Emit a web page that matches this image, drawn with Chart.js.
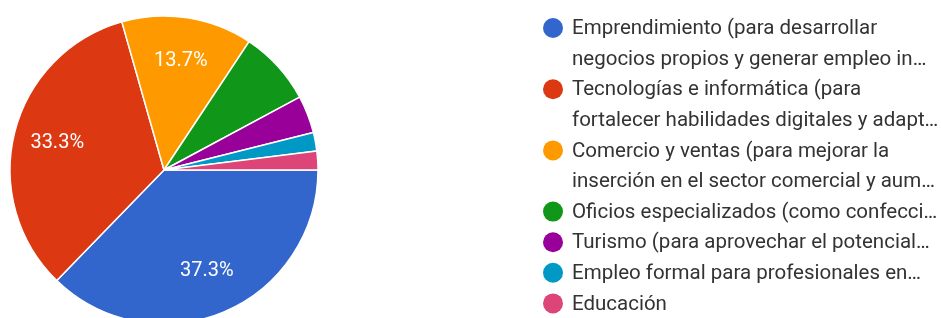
<!DOCTYPE html>
<html><head><meta charset="utf-8">
<script src="https://cdn.jsdelivr.net/npm/chart.js@4.4.0/dist/chart.umd.min.js"></script>
<style>html,body{margin:0;padding:0;background:#fff;overflow:hidden}canvas{display:block}</style>
</head><body>
<canvas id="c" width="941" height="318"></canvas>
<script>
const categories = [
  ["Emprendimiento (para desarrollar", "negocios propios y generar empleo in…"],
  ["Tecnologías e informática (para", "fortalecer habilidades digitales y adapt…"],
  ["Comercio y ventas (para mejorar la", "inserción en el sector comercial y aum…"],
  ["Oficios especializados (como confecci…"],
  ["Turismo (para aprovechar el potencial…"],
  ["Empleo formal para profesionales en…"],
  ["Educación"]
];
const responses = [19, 17, 7, 4, 2, 1, 1];
const sliceColors = ["#3366cc", "#dc3912", "#ff9900", "#109618", "#990099", "#0099c6", "#dd4477"];

const FONT = "Roboto, Arial, sans-serif";

const sliceLabels = {
  id: 'sliceLabels',
  afterDatasetsDraw(chart) {
    const ctx = chart.ctx;
    const meta = chart.getDatasetMeta(0);
    const data = chart.data.datasets[0].data;
    const total = data.reduce((a, b) => a + b, 0);
    ctx.save();
    ctx.fillStyle = '#ffffff';
    ctx.font = '20px ' + FONT;
    ctx.textAlign = 'center';
    ctx.textBaseline = 'middle';
    meta.data.forEach((arc, i) => {
      const pct = data[i] / total * 100;
      if (pct < 10) return;
      const mid = (arc.startAngle + arc.endAngle) / 2;
      const r = arc.outerRadius * 0.715;
      ctx.fillText(pct.toFixed(1) + '%', arc.x + Math.cos(mid) * r, arc.y + Math.sin(mid) * r);
    });
    ctx.restore();
  }
};

const sideLegend = {
  id: 'sideLegend',
  afterDraw(chart) {
    const ctx = chart.ctx;
    const labels = chart.data.labels;
    const colors = chart.data.datasets[0].backgroundColor;
    ctx.save();
    ctx.font = '20.5px ' + FONT;
    ctx.textBaseline = 'middle';
    ctx.textAlign = 'left';
    let line = 0;
    const y0 = 28, step = 30.6;
    labels.forEach((lab, i) => {
      const y = y0 + line * step;
      ctx.beginPath();
      ctx.arc(553, y, 10, 0, Math.PI * 2);
      ctx.fillStyle = colors[i];
      ctx.fill();
      ctx.fillStyle = '#333333';
      lab.forEach((t, k) => {
        ctx.fillText(t, 572, y0 + (line + k) * step + 1);
      });
      line += lab.length;
    });
    ctx.restore();
  }
};

new Chart(document.getElementById('c'), {
  type: 'pie',
  data: {
    labels: categories,
    datasets: [{
      data: responses,
      backgroundColor: sliceColors,
      borderColor: '#ffffff',
      borderWidth: 1.5,
      radius: 154
    }]
  },
  options: {
    responsive: false,
    animation: false,
    rotation: 90,
    layout: { padding: { left: 10, right: 623, top: 22, bottom: 0 } },
    plugins: { legend: { display: false }, tooltip: { enabled: false } }
  },
  plugins: [sliceLabels, sideLegend]
});
</script>
</body></html>
